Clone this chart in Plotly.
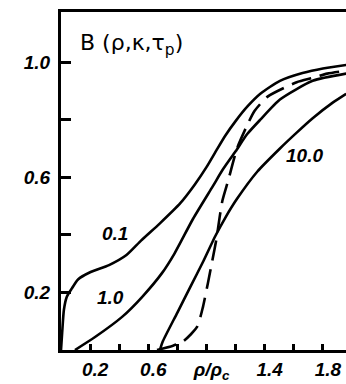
import plotly.graph_objects as go

# ---- data ----
x_k01 = [0.0, 0.008, 0.02, 0.04, 0.076, 0.117, 0.20, 0.33, 0.45, 0.55, 0.68, 0.82, 0.92, 1.0, 1.07, 1.13, 1.2, 1.28, 1.37, 1.505, 1.66, 1.8, 1.96]
y_k01 = [0.0, 0.06, 0.14, 0.185, 0.215, 0.245, 0.27, 0.295, 0.33, 0.38, 0.44, 0.51, 0.575, 0.635, 0.695, 0.745, 0.795, 0.845, 0.89, 0.935, 0.962, 0.978, 0.99]

x_k1 = [0.096, 0.234, 0.42, 0.557, 0.694, 0.78, 0.907, 1.045, 1.11, 1.2, 1.28, 1.37, 1.505, 1.73, 1.96]
y_k1 = [0.0, 0.045, 0.115, 0.184, 0.267, 0.335, 0.455, 0.57, 0.625, 0.69, 0.75, 0.80, 0.87, 0.935, 0.96]

x_k10 = [0.68, 0.70, 0.80, 0.89, 0.98, 1.06, 1.13, 1.21, 1.35, 1.505, 1.62, 1.73, 1.87, 1.96]
y_k10 = [0.0, 0.03, 0.13, 0.22, 0.31, 0.395, 0.46, 0.525, 0.62, 0.70, 0.755, 0.805, 0.86, 0.89]

x_dash = [0.66, 0.77, 0.84, 0.935, 0.976, 1.01, 1.04, 1.07, 1.09, 1.11, 1.15, 1.21, 1.27, 1.33, 1.42, 1.62, 1.73, 1.83, 1.96]
y_dash = [0.0, 0.015, 0.03, 0.08, 0.15, 0.233, 0.31, 0.39, 0.46, 0.52, 0.59, 0.70, 0.77, 0.83, 0.88, 0.93, 0.945, 0.96, 0.97]

x_tickvals = [0.2, 0.6, 1.0, 1.4, 1.8]
x_ticktext = ["0.2", "0.6", "ρ/ρ<sub>c</sub>", "1.4", "1.8"]
y_tickvals = [0.2, 0.6, 1.0]
y_ticktext = ["0.2", "0.6", "1.0"]

curve_labels = ["0.1", "1.0", "10.0"]
curve_label_x = [0.37, 0.337, 1.677]
curve_label_y = [0.406, 0.184, 0.677]

title_text = "B (ρ,κ,τ<sub>p</sub>)"

fig = go.Figure()
line = dict(color="black", width=2.6, shape="spline", smoothing=0.6)
for xs, ys in [(x_k01, y_k01), (x_k1, y_k1), (x_k10, y_k10)]:
    fig.add_trace(go.Scatter(x=xs, y=ys, mode="lines", line=line, showlegend=False, hoverinfo="skip"))
fig.add_trace(go.Scatter(x=x_dash, y=y_dash, mode="lines",
                         line=dict(color="black", width=2.6, shape="spline", smoothing=0.6, dash="20px,9px"),
                         showlegend=False, hoverinfo="skip"))

lab_font = dict(family="Liberation Sans", size=19, color="black", weight="bold", style="italic")
for t, xv, yv in zip(curve_labels, curve_label_x, curve_label_y):
    fig.add_annotation(x=xv, y=yv, text=t, showarrow=False, font=lab_font, xanchor="center", yanchor="middle")

fig.add_annotation(x=0.12, y=1.06, text=title_text, showarrow=False, xanchor="left", yanchor="middle",
                   font=dict(family="DejaVu Sans", size=22, color="black"))

tick_font = dict(family="Liberation Sans", size=19, color="black", weight="bold", style="italic")
fig.update_xaxes(range=[0, 1.959], tickvals=x_tickvals, ticktext=x_ticktext, ticks="inside", ticklen=6,
                 tickwidth=2.5, tickcolor="black", showline=True, linewidth=3, linecolor="black", mirror=True,
                 showgrid=False, zeroline=False, tickfont=tick_font, ticklabelshift=5,
                 minor=dict(ticks="inside", ticklen=6, tickwidth=2.5, tickcolor="black", tick0=0, dtick=0.2, showgrid=False))
fig.update_yaxes(range=[0, 1.174], tickvals=y_tickvals, ticktext=y_ticktext, ticks="inside", ticklen=10,
                 tickwidth=2.5, tickcolor="black", showline=True, linewidth=3, linecolor="black",
                 showgrid=False, zeroline=False, tickfont=tick_font, ticklabelstandoff=4,
                 minor=dict(ticks="inside", ticklen=10, tickwidth=2.5, tickcolor="black", tick0=0, dtick=0.2, showgrid=False))
fig.update_layout(width=346, height=384, margin=dict(l=61, r=0, t=12, b=34),
                  plot_bgcolor="white", paper_bgcolor="white")
fig.write_html("out.html", config={"displayModeBar": False},
               post_script="document.body.style.margin='0px';document.body.style.overflow='hidden';")
